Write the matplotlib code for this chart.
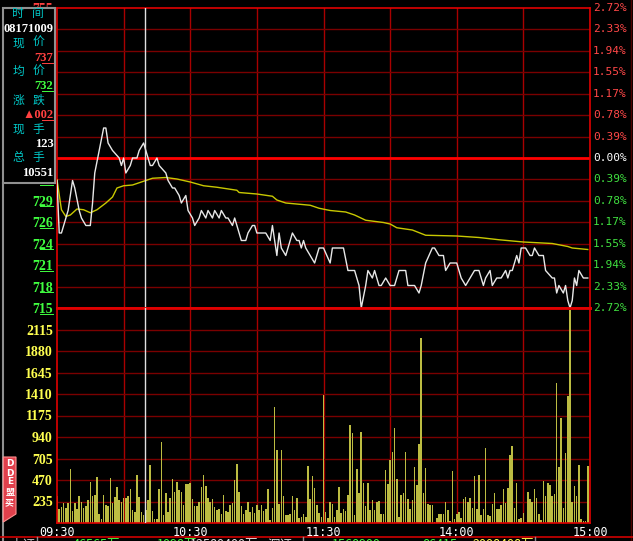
import matplotlib
matplotlib.use("Agg")
import matplotlib.pyplot as plt
from matplotlib.patches import Rectangle, Polygon
from matplotlib.lines import Line2D

# ---------------- data ----------------
prev_close = 735
price_t = [0, 1, 2, 4, 5, 7, 8, 10, 11, 13, 15, 16, 17, 19, 21, 22, 23, 25, 28, 29, 30, 31, 33, 34, 36, 37, 39,
           40, 42, 43, 45, 46, 49, 50, 52, 53, 55, 56, 58, 59, 61, 62, 64, 65, 67, 68, 70, 71, 73, 74, 76, 77, 79,
           80, 82, 83, 85, 86, 88, 89, 90, 94, 96, 97, 99, 100, 101, 103, 104, 106, 108, 109, 110, 111, 112, 114,
           116, 118, 120, 123, 124, 127, 129, 131, 134, 136, 137, 139, 140, 142, 143, 145, 146, 148, 150, 152, 154,
           157, 158, 161, 163, 164, 166, 169, 170, 172, 174, 175, 177, 180, 182, 184, 186, 188, 190, 192, 193, 195,
           196, 198, 200, 202, 203, 204, 205, 207, 208, 209, 211, 213, 214, 215, 217, 219, 220, 223, 224, 225, 226,
           228, 229, 230, 231, 232, 233, 234, 235, 237, 239]
price_v = [732, 725, 725, 727, 728, 732, 731, 728, 727, 726, 726, 729, 733, 736, 739, 739, 737, 736, 735, 734, 735,
           733, 734, 735, 735, 736, 737, 736, 734, 734, 735, 734, 733, 732, 731, 731, 730, 729, 730, 728, 727, 726,
           727, 728, 727, 728, 727, 728, 727, 728, 727, 727, 726, 727, 725, 724, 724, 725, 726, 726, 725, 725, 724,
           726, 722, 725, 723, 722, 723, 725, 724, 724, 723, 724, 723, 722, 721, 723, 723, 721, 723, 723, 723, 720,
           720, 718, 715, 718, 720, 719, 720, 718, 718, 719, 718, 718, 720, 720, 718, 718, 717, 718, 721, 723, 723,
           722, 722, 720, 721, 721, 719, 718, 719, 720, 720, 718, 719, 720, 718, 719, 719, 720, 719, 720, 720, 722,
           721, 723, 723, 722, 722, 723, 722, 722, 720, 719, 719, 717, 718, 717, 718, 716, 715, 716, 719, 718, 720,
           719, 719]
avg_t = [0, 2, 4, 6, 9, 12, 15, 18, 22, 25, 27, 30, 34, 39, 43, 49, 54, 60, 66, 72, 81, 82, 90, 97, 99, 103, 114,
         118, 123, 130, 134, 139, 147, 150, 153, 160, 166, 180, 190, 199, 210, 223, 230, 232, 239]
avg_v = [732.1, 728.1, 727.2, 727.4, 728.2, 728.1, 727.7, 728.1, 729.0, 729.8, 731.0, 731.3, 731.4, 731.9, 732.3,
         732.4, 732.2, 731.8, 731.3, 731.1, 730.7, 730.4, 730.2, 729.9, 729.4, 729.0, 728.7, 728.3, 728.0, 727.8,
         727.4, 726.7, 726.4, 726.2, 725.7, 725.4, 724.7, 724.6, 724.4, 724.1, 723.8, 723.6, 723.2, 723.0, 722.8]
volume = [290, 155, 177, 216, 166, 216, 592, 131, 224, 148,
          290, 235, 166, 191, 253, 446, 300, 311, 501, 100,
          44, 311, 202, 191, 494, 216, 286, 394, 253, 232,
          268, 275, 290, 374, 137, 118, 530, 286, 118, 82,
          137, 253, 636, 129, 46, 46, 374, 883, 82, 326,
          118, 268, 483, 344, 446, 363, 337, 202, 421,
          428, 439, 257, 191, 191, 235, 392, 527, 402, 275,
          235, 264, 173, 137, 155, 93, 301, 129, 115, 199,
          224, 465, 647, 337, 191, 93, 137, 235, 115, 173,
          107, 199, 137, 199, 129, 148, 370, 38, 166, 1266,
          803, 210, 803, 293, 82, 82, 101, 293, 137, 275,
          57, 68, 101, 71, 628, 257, 516, 380, 202, 112,
          68,
          1404, 118, 53, 228, 210, 64, 144, 392, 107, 155,
          126, 301, 1066, 982, 90, 592, 326, 1000, 439, 191,
          435, 144, 254, 137, 228, 238, 101, 93, 581, 428,
          691, 781, 1036, 483, 64, 308, 330, 781, 264, 155,
          254, 610, 410, 866, 2024, 330, 604, 210, 202, 202,
          13, 57, 101, 101, 93, 228, 137, 27, 563,
          46, 100, 115, 57, 264, 282, 228, 275, 166, 511,
          155, 530, 90, 155, 822, 90, 79, 210, 326, 148,
          155, 199, 374, 216, 385, 746, 839, 166, 439, 46,
          57, 107, 16, 337, 264, 235, 374, 275, 100, 38,
          454, 293, 439, 410, 297, 319, 1532, 610, 1146, 166,
          767, 1383, 2323, 228, 399, 297, 636, 46, 24, 24,
          628]
price_tick_labels = ["715", "718", "721", "724", "726", "729", "732", "735",
                     "738", "741", "744", "746", "749", "752", "755"]
pct_labels = ["2.72%", "2.33%", "1.94%", "1.55%", "1.17%", "0.78%", "0.39%", "0.00%",
              "0.39%", "0.78%", "1.17%", "1.55%", "1.94%", "2.33%", "2.72%"]
vol_tick_labels = ["", "235", "470", "705", "940", "1175", "1410", "1645", "1880", "2115", ""]
time_ticks = [0, 60, 120, 180, 240]
time_labels = ["09:30", "10:30", "11:30", "14:00", "15:00"]
cursor_t = 39.6
info_names = ["时间", "现价", "均价", "涨跌", "现手", "总手"]
info_values = ["08171009", "737", "732", "▲002", "123", "10551"]
status_texts = ["上证", "46565万", "1098万", "12580400万", "深证", "1568900", "86415", "2008408万"]

# ---------------- figure ----------------
W, H = 633, 541
fig = plt.figure(figsize=(W / 100, H / 100), dpi=100, facecolor="black")


def fx(x):
    return x / W


def fy(y):
    return 1 - y / H


def hline_px(x0, x1, y, color, lw=1.0, z=7):
    fig.lines.append(Line2D([fx(x0), fx(x1)], [fy(y), fy(y)], transform=fig.transFigure,
                            color=color, lw=lw, zorder=z))


GRID_H = "#7a0000"
GRID_V = "#a80000"
RED = "#e00000"
UP = "#ff4040"
DOWN = "#40ff40"

ax = fig.add_axes([fx(57), fy(308), 533 / W, 300 / H])
axv = fig.add_axes([fx(57), fy(523), 533 / W, 215 / H])

n_steps = len(price_tick_labels)
price_ticks = [prev_close + (k - 7) * 20 / 7 for k in range(n_steps)]
vol_ticks = [235 * k for k in range(len(vol_tick_labels))]

for a in (ax, axv):
    a.set_facecolor("black")
    a.set_xlim(0, 240)
    for s in a.spines.values():
        s.set_color(RED)
        s.set_linewidth(1.2)
    for t in range(30, 240, 30):
        a.axvline(t, color=GRID_V, lw=1, zorder=1)
    a.axvline(cursor_t, color="#e0e0e0", lw=1, zorder=4)

# price panel
ax.set_ylim(price_ticks[0], price_ticks[-1])
for v in price_ticks[1:-1]:
    ax.axhline(v, color=GRID_H, lw=1, zorder=1)
ax.axhline(prev_close, color="#ff0000", lw=2, zorder=2)
ax.plot(avg_t, avg_v, color="#c8c800", lw=1, zorder=3)
ax.plot(price_t, price_v, color="#e8e8e8", lw=1, zorder=3)
ax.set_xticks([])
ax.set_yticks(price_ticks)
ax.set_yticklabels(price_tick_labels, fontfamily="Liberation Serif", fontweight="bold", fontsize=10)
ax.tick_params(axis="y", length=0, pad=3)


def tick_color(v):
    if abs(v - prev_close) < 0.1:
        return "#ffffff"
    return UP if v > prev_close else DOWN


for v, lab in zip(price_ticks, ax.get_yticklabels()):
    lab.set_color(tick_color(v))
for v, txt in zip(price_ticks, pct_labels):
    c = {UP: "#ff4848", DOWN: "#40e040"}.get(tick_color(v), "#ffffff")
    ax.annotate(txt, xy=(1, v), xycoords=ax.get_yaxis_transform(), xytext=(2, 0),
                textcoords="offset points", ha="left", va="center", color=c,
                fontfamily="DejaVu Sans Mono", fontsize=8)

# underline under the two decimal digits of the price labels
for v in price_ticks:
    ypix = H - ax.transData.transform((0, v))[1]
    hline_px(40, 53, ypix + 5.5, tick_color(v), lw=0.7, z=0.5)

# volume panel
axv.set_ylim(0, vol_ticks[-1])
for v in vol_ticks[1:-1]:
    axv.axhline(v, color=GRID_H, lw=1, zorder=1)
axv.bar(range(len(volume)), volume, width=0.7, color="#bcbc42", linewidth=0, zorder=2)
axv.set_yticks(vol_ticks)
axv.set_yticklabels(vol_tick_labels, fontfamily="Liberation Serif", fontweight="bold", fontsize=10,
                    color="#ffff50")
axv.tick_params(axis="y", length=0, pad=3)
axv.set_xticks(time_ticks)
axv.set_xticklabels(time_labels, fontfamily="DejaVu Sans Mono", fontsize=8.5, color="white")
axv.tick_params(axis="x", length=0, pad=2)
ax.spines["bottom"].set_linewidth(2)
axv.spines["top"].set_linewidth(2)

# info box
fig.patches.append(Rectangle((fx(2.5), fy(183)), 52.5 / W, 175 / H, transform=fig.transFigure,
                             facecolor="black", edgecolor="#909090", lw=1.5, zorder=5))
for i, (name, val) in enumerate(zip(info_names, info_values)):
    yn = 14 + 28.8 * i
    yv = yn + 14.8
    fig.text(fx(18), fy(yn), name[0], ha="center", va="center", color="#00c8c8",
             fontfamily="Noto Sans CJK SC", fontsize=8.5, zorder=6)
    fig.text(fx(38), fy(yn), name[1], ha="center", va="center", color="#00c8c8",
             fontfamily="Noto Sans CJK SC", fontsize=8.5, zorder=6)
    col = {1: UP, 2: DOWN, 3: UP}.get(i, "#ffffff")
    fig.text(fx(53.5), fy(yv), val, ha="right", va="center", color=col,
             fontfamily=["Liberation Serif", "DejaVu Sans"], fontweight="bold", fontsize=9, zorder=6)
    if i in (1, 2, 3):
        hline_px(41.5, 53, yv + 5, col, lw=0.7)

# DDE tab
fig.patches.append(Polygon([(fx(3.3), fy(457)), (fx(16), fy(457)), (fx(16), fy(514)), (fx(3.3), fy(522))],
                           closed=True, transform=fig.transFigure, facecolor="#e0404c",
                           edgecolor="#ff9090", lw=0.8, zorder=5))
for ch, yy, fam in [("D", 464, "DejaVu Sans"), ("D", 473, "DejaVu Sans"), ("E", 482, "DejaVu Sans"),
                    ("盟", 492, "Noto Sans CJK SC"), ("买", 503, "Noto Sans CJK SC")]:
    fig.text(fx(9.7), fy(yy), ch, ha="center", va="center", color="white", fontfamily=fam,
             fontsize=6.5, fontweight="bold", zorder=6)

# frame lines
fig.lines.append(Line2D([fx(2.5), fx(2.5)], [fy(183), 0], transform=fig.transFigure, color="#909090", lw=1.5))
fig.lines.append(Line2D([fx(630.5), fx(630.5)], [1, 0], transform=fig.transFigure, color="#500000", lw=1))
fig.lines.append(Line2D([0, 1], [fy(536.5), fy(536.5)], transform=fig.transFigure, color="#d00000", lw=1.2))
for xs in (37, 303, 535):
    fig.lines.append(Line2D([fx(xs), fx(xs)], [fy(537), 0], transform=fig.transFigure, color="#909090", lw=1))

# status bar (cut at figure bottom)
status_x = [10, 73, 157, 190, 268, 332, 422, 472]
status_c = ["#c8c8c8", DOWN, DOWN, "#e0e0e0", "#e0e0e0", DOWN, DOWN, "#ffff50"]
for txt, xx, cc in zip(status_texts, status_x, status_c):
    fig.text(fx(xx), fy(538.5), txt, ha="left", va="top", color=cc,
             fontfamily=["Noto Sans CJK SC", "DejaVu Sans"], fontsize=9)

fig.savefig("out.png", dpi=100, facecolor="black")
